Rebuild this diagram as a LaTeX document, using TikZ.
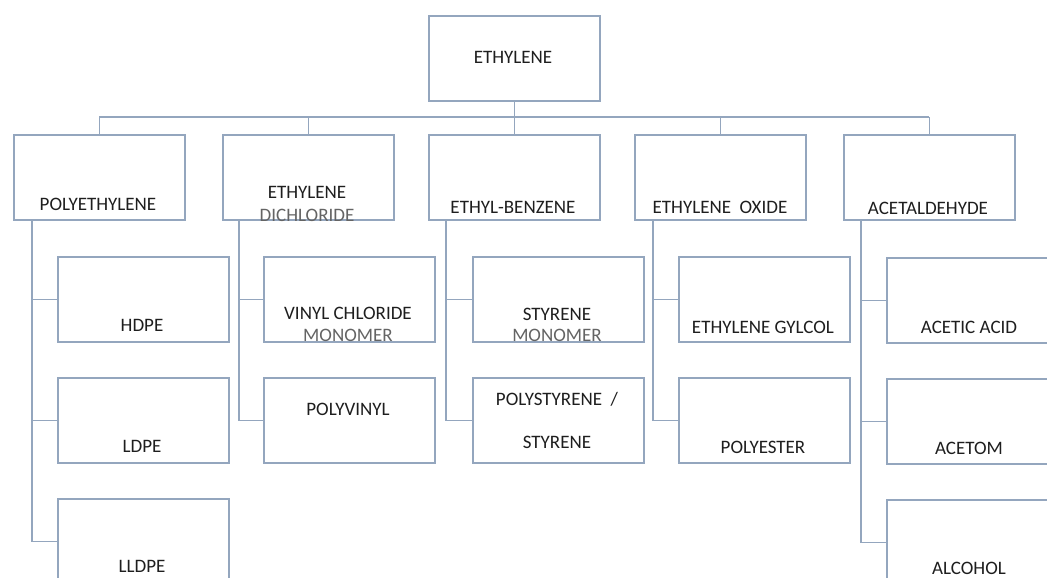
\documentclass[tikz,border=0pt]{standalone}
\usepackage{fontspec}
\setmainfont{Carlito}
\definecolor{boxc}{RGB}{148,166,190}
\definecolor{txtc}{RGB}{30,30,30}
\definecolor{subc}{RGB}{100,100,100}
\begin{document}
\begin{tikzpicture}[x=1pt,y=-1pt,
  box/.style={draw=boxc, line width=1.6pt, minimum width=171pt, minimum height=85pt, inner sep=0pt, anchor=north west},
  lbl/.style={text=txtc, font=\fontsize{19}{22}\selectfont, inner sep=0pt},
  sublbl/.style={lbl, text=subc},
  conn/.style={draw=boxc, line width=1.6pt}]
\useasboundingbox (0,0) rectangle (1047,578);
\fill[white] (0,0) rectangle (1047,578);
\clip (0,0) rectangle (1047,578);

% root
\node[box] (eth) at (428,15) {};
% level 1
\node[box] (pe)  at (13,134) {};
\node[box] (edc) at (222,134) {};
\node[box] (eb)  at (428,134) {};
\node[box] (eo)  at (634,134) {};
\node[box] (ac)  at (843,134) {};
% level 2
\node[box] (hdpe)  at (57,256) {};
\node[box] (ldpe)  at (57,377) {};
\node[box] (lldpe) at (57,498) {};
\node[box] (vcm) at (263,256) {};
\node[box] (pv)  at (263,377) {};
\node[box] (sm)  at (472,256) {};
\node[box] (ps)  at (472,377) {};
\node[box] (eg)  at (678,256) {};
\node[box] (pes) at (678,377) {};
\node[box] (aa)  at (886,257) {};
\node[box] (acm) at (886,378) {};
\node[box] (alc) at (886,499) {};

% connectors from root
\coordinate (bar) at (0,117);
\draw[conn] (eth.south) -- (eth.south |- bar);
\draw[conn] (pe.north |- bar) -- (ac.north |- bar);
\foreach \n in {pe,edc,eb,eo,ac} \draw[conn] (\n.north |- bar) -- (\n.north);

% spines
\coordinate (s1) at (32,219);
\coordinate (s2) at (239,219);
\coordinate (s3) at (446,219);
\coordinate (s4) at (653,219);
\coordinate (s5) at (861,219);
\draw[conn] (s1) |- (lldpe.west);
\draw[conn] (s1 |- hdpe.west) -- (hdpe.west);
\draw[conn] (s1 |- ldpe.west) -- (ldpe.west);
\draw[conn] (s2) |- (pv.west);
\draw[conn] (s2 |- vcm.west) -- (vcm.west);
\draw[conn] (s3) |- (ps.west);
\draw[conn] (s3 |- sm.west) -- (sm.west);
\draw[conn] (s4) |- (pes.west);
\draw[conn] (s4 |- eg.west) -- (eg.west);
\draw[conn] (s5) |- (alc.west);
\draw[conn] (s5 |- aa.west) -- (aa.west);
\draw[conn] (s5 |- acm.west) -- (acm.west);

% labels
\node[lbl] (teth) at (513,57) {ETHYLENE};
\node[lbl] (tpe) at (98,204) {POLYETHYLENE};
\node[lbl] (tedc1) at (307,192) {ETHYLENE};
\node[sublbl] (tedc2) at (307,215) {DICHLORIDE};
\node[lbl] (teb) at (513,207) {ETHYL-BENZENE};
\node[lbl] (teo) at (720,207) {ETHYLENE\ \ OXIDE};
\node[lbl] (tac) at (928,208) {ACETALDEHYDE};
\node[lbl] (thdpe) at (142,325) {HDPE};
\node[lbl] (tldpe) at (142,446) {LDPE};
\node[lbl] (tlldpe) at (142,566) {LLDPE};
\node[lbl] (tvcm1) at (348,313) {VINYL CHLORIDE};
\node[sublbl] (tvcm2) at (348,335) {MONOMER};
\node[lbl] (tpv) at (348,409) {POLYVINYL};
\node[lbl] (tsm1) at (557,314) {STYRENE};
\node[sublbl] (tsm2) at (557,335) {MONOMER};
\node[lbl] (tps1) at (557,399) {POLYSTYRENE\ \ /};
\node[lbl] (tps2) at (557,442) {STYRENE};
\node[lbl] (teg) at (763,327) {ETHYLENE GYLCOL};
\node[lbl] (tpes) at (763,447) {POLYESTER};
\node[lbl] (taa) at (969,327) {ACETIC ACID};
\node[lbl] (tacm) at (969,448) {ACETOM};
\node[lbl] (talc) at (969,568) {ALCOHOL};
\end{tikzpicture}
\end{document}
